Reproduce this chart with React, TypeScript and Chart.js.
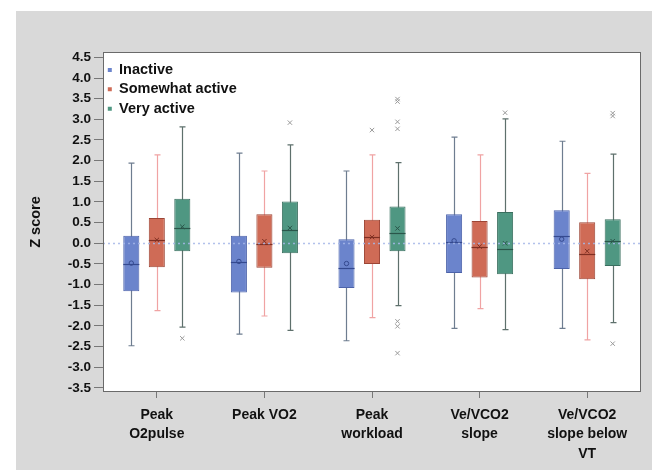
import React, { useEffect, useRef } from 'react';
import { Chart, registerables } from 'chart.js';

Chart.register(...registerables);

// ---------- data ----------
const categories: string[][] = [
  ['Peak', 'O2pulse'],
  ['Peak VO2'],
  ['Peak', 'workload'],
  ['Ve/VCO2', 'slope'],
  ['Ve/VCO2', 'slope below', 'VT'],
];
const seriesNames = ['Inactive', 'Somewhat active', 'Very active'];

const inactiveMin = [-2.48, -2.2, -2.36, -2.06, -2.06];
const inactiveQ1 = [-1.16, -1.19, -1.08, -0.72, -0.62];
const inactiveMedian = [-0.51, -0.45, -0.61, 0.04, 0.17];
const inactiveQ3 = [0.18, 0.18, 0.1, 0.7, 0.8];
const inactiveMax = [1.94, 2.18, 1.75, 2.57, 2.47];
const inactiveMean = [-0.48, -0.44, -0.49, 0.06, 0.1];
const inactiveOutliers: number[][] = [[], [], [], [], []];

const someMin = [-1.63, -1.76, -1.8, -1.58, -2.34];
const someQ1 = [-0.58, -0.59, -0.5, -0.83, -0.87];
const someMedian = [0.07, -0.02, 0.14, -0.09, -0.27];
const someQ3 = [0.61, 0.7, 0.57, 0.54, 0.51];
const someMax = [2.14, 1.75, 2.14, 2.14, 1.69];
const someMean = [0.08, 0.05, 0.15, -0.08, -0.19];
const someOutliers: number[][] = [[], [], [2.74], [], []];

const veryMin = [-2.03, -2.11, -1.51, -2.09, -1.92];
const veryQ1 = [-0.19, -0.24, -0.19, -0.75, -0.55];
const veryMedian = [0.36, 0.33, 0.26, -0.15, 0.06];
const veryQ3 = [1.08, 1.01, 0.89, 0.76, 0.58];
const veryMax = [2.82, 2.38, 1.95, 3.01, 2.16];
const veryMean = [0.4, 0.37, 0.36, 0.0, 0.05];
const veryOutliers: number[][] = [[-2.3], [2.92], [3.49, 3.43, 2.94, 2.77, -1.89, -2.01, -2.66], [3.16], [3.15, 3.08, -2.43]];

const yMin = -3.6;
const yMax = 4.63;
const yStep = 0.5;
const referenceLine = 0;

// ---------- styles ----------
const FONT = "'Liberation Sans', Arial, sans-serif";
const fills = ['#6b84cc', '#cf6b56', '#4f9782'];
const borders = ['#4c63aa', '#9c4535', '#3a6f5f'];
const whiskerColors = ['#6e7d90', '#f0a3a3', '#5e706c'];
const medianColors = ['#34498f', '#7f2f22', '#2a564a'];

const stats = [
  { min: inactiveMin, q1: inactiveQ1, med: inactiveMedian, q3: inactiveQ3, max: inactiveMax, mean: inactiveMean, out: inactiveOutliers, meanMark: 'o' },
  { min: someMin, q1: someQ1, med: someMedian, q3: someQ3, max: someMax, mean: someMean, out: someOutliers, meanMark: 'x' },
  { min: veryMin, q1: veryQ1, med: veryMedian, q3: veryQ3, max: veryMax, mean: veryMean, out: veryOutliers, meanMark: 'x' },
];

const boxPlugin = {
  id: 'boxExtras',
  beforeDraw(chart: any) {
    const { ctx, width, height, chartArea: a } = chart;
    ctx.save();
    ctx.fillStyle = '#ffffff';
    ctx.fillRect(0, 0, width, height);
    ctx.fillStyle = '#d9d9d9';
    ctx.fillRect(16, 11, width - 16, height - 11);
    ctx.fillStyle = '#ffffff';
    ctx.fillRect(a.left, a.top, a.right - a.left, a.bottom - a.top);
    ctx.restore();
  },
  afterLayout(chart: any) {
    const l = chart.legend;
    const a = chart.chartArea;
    if (l && a) {
      const w = l.width, h = l.height;
      l.left = a.left; l.top = a.top; l.right = a.left + w; l.bottom = a.top + h;
    }
  },
  beforeDatasetsDraw(chart: any) {
    const { ctx } = chart;
    const y = chart.scales.y;
    ctx.save();
    stats.forEach((s, d) => {
      const meta = chart.getDatasetMeta(d);
      meta.data.forEach((bar: any, i: number) => {
        const x = Math.round(bar.x) + 0.5;
        const yt = y.getPixelForValue(s.max[i]);
        const yb = y.getPixelForValue(s.min[i]);
        ctx.strokeStyle = whiskerColors[d];
        ctx.lineWidth = 1.2;
        ctx.beginPath();
        ctx.moveTo(x, yt); ctx.lineTo(x, yb);
        ctx.moveTo(x - 3, yt); ctx.lineTo(x + 3, yt);
        ctx.moveTo(x - 3, yb); ctx.lineTo(x + 3, yb);
        ctx.stroke();
      });
    });
    ctx.restore();
  },
  afterDatasetsDraw(chart: any) {
    const { ctx, chartArea: a } = chart;
    const y = chart.scales.y;
    ctx.save();
    stats.forEach((s, d) => {
      const meta = chart.getDatasetMeta(d);
      meta.data.forEach((bar: any, i: number) => {
        const x = bar.x;
        const hw = bar.width / 2;
        const ym = Math.round(y.getPixelForValue(s.med[i])) + 0.5;
        ctx.strokeStyle = medianColors[d];
        ctx.lineWidth = 1.2;
        ctx.beginPath();
        ctx.moveTo(x - hw, ym); ctx.lineTo(x + hw, ym);
        ctx.stroke();
        const yMean = y.getPixelForValue(s.mean[i]);
        ctx.lineWidth = 1;
        ctx.strokeStyle = medianColors[d];
        ctx.beginPath();
        if (s.meanMark === 'o') {
          ctx.arc(x, yMean, 2.2, 0, Math.PI * 2);
        } else {
          ctx.moveTo(x - 2.2, yMean - 2.2); ctx.lineTo(x + 2.2, yMean + 2.2);
          ctx.moveTo(x - 2.2, yMean + 2.2); ctx.lineTo(x + 2.2, yMean - 2.2);
        }
        ctx.stroke();
        ctx.strokeStyle = '#9a9a9a';
        s.out[i].forEach((v: number) => {
          const yo = y.getPixelForValue(v);
          ctx.beginPath();
          ctx.moveTo(x - 2.2, yo - 2.2); ctx.lineTo(x + 2.2, yo + 2.2);
          ctx.moveTo(x - 2.2, yo + 2.2); ctx.lineTo(x + 2.2, yo - 2.2);
          ctx.stroke();
        });
      });
    });
    const y0 = Math.round(y.getPixelForValue(referenceLine)) + 0.5;
    ctx.strokeStyle = 'rgba(165,182,232,0.85)';
    ctx.lineWidth = 1.5;
    ctx.setLineDash([2, 3]);
    ctx.beginPath();
    ctx.moveTo(a.left, y0); ctx.lineTo(a.right, y0);
    ctx.stroke();
    ctx.setLineDash([]);
    ctx.strokeStyle = '#6a6a6a';
    ctx.lineWidth = 1;
    ctx.strokeRect(Math.round(a.left) + 0.5, Math.round(a.top) + 0.5, Math.round(a.right - a.left) - 1, Math.round(a.bottom - a.top) - 1);
    ctx.restore();
  },
};

export default function App() {
  const ref = useRef<HTMLCanvasElement | null>(null);
  useEffect(() => {
    if (!ref.current) return;
    const datasets = stats.map((s, d) => ({
      label: seriesNames[d],
      data: s.q1.map((q: number, i: number) => [q, s.q3[i]]),
      backgroundColor: fills[d],
      borderColor: borders[d],
      borderWidth: 1,
      borderSkipped: false,
      barPercentage: 0.63,
      categoryPercentage: 0.711,
    }));
    const chart = new Chart(ref.current, {
      type: 'bar',
      data: { labels: categories as any, datasets: datasets as any },
      options: {
        animation: false,
        responsive: false,
        layout: { padding: { top: 52, right: 11, bottom: 0, left: 0 } },
        scales: {
          x: {
            offset: true,
            grid: { display: true, drawOnChartArea: false, drawTicks: true, tickLength: 6, tickColor: '#777', offset: false },
            border: { display: false },
            ticks: { color: '#111', padding: 7.5, font: { family: FONT, weight: 'bold', size: 14, lineHeight: 1.38 } as any, maxRotation: 0, autoSkip: false },
            afterFit: (s: any) => { s.height = 78; },
          },
          y: {
            min: yMin,
            max: yMax,
            grid: { display: true, drawOnChartArea: false, drawTicks: true, tickLength: 9, tickColor: '#777' },
            border: { display: false },
            ticks: {
              stepSize: yStep,
              includeBounds: false,
              color: '#111',
              padding: 3,
              font: { family: FONT, weight: 'bold', size: 13.5 } as any,
              callback: (v: any) => (Math.abs(Number(v)) < 1e-9 ? 0 : Number(v)).toFixed(1),
            },
            title: { display: true, text: 'Z score', color: '#111', font: { family: FONT, weight: 'bold', size: 14.5 } as any, padding: { top: 27, bottom: 0 } },
            afterFit: (s: any) => { s.width = 103; },
          },
        },
        plugins: {
          legend: {
            position: 'chartArea' as any,
            align: 'start',
            title: { display: true, text: '', font: { size: 1, lineHeight: 1 } as any, padding: { top: 0, bottom: 5 } as any },
            labels: {
              boxWidth: 4,
              boxHeight: 4,
              padding: 4.8,
              color: '#111',
              font: { family: FONT, weight: 'bold', size: 14.5 } as any,
              generateLabels: (c: any) =>
                Chart.defaults.plugins.legend.labels.generateLabels(c).map((it: any) => ({ ...it, lineWidth: 0, strokeStyle: 'rgba(0,0,0,0)' })),
            },
          },
          tooltip: { enabled: false },
        },
      },
      plugins: [boxPlugin as any],
    });
    return () => chart.destroy();
  }, []);
  return (
    <div style={{ position: 'fixed', left: 0, top: 0, width: 652, height: 470 }}>
      <canvas ref={ref} width={652} height={470} style={{ display: 'block' }} />
    </div>
  );
}
